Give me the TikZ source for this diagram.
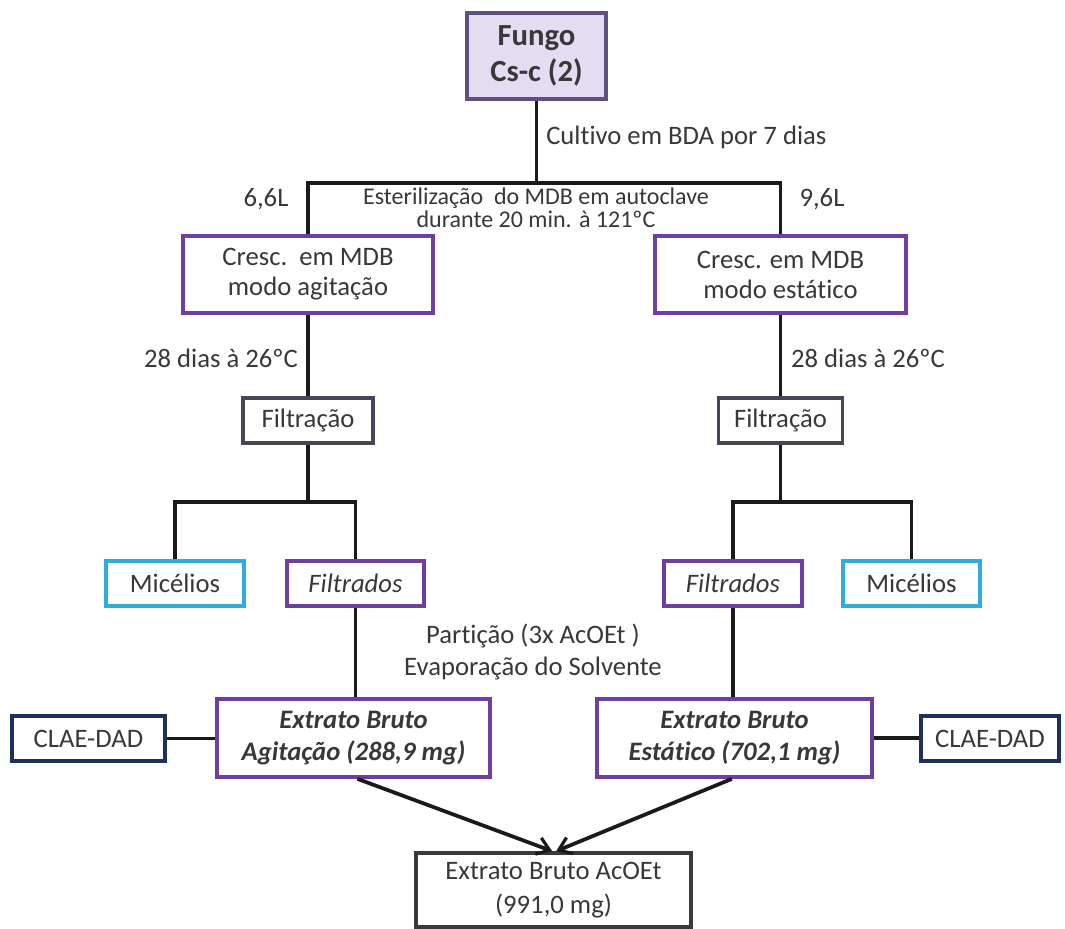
\documentclass[tikz,border=0pt]{standalone}
\usepackage{fontspec}
\setmainfont{Carlito}[RawFeature={-liga;-clig;-calt;-dlig}]
\usetikzlibrary{arrows.meta}

\definecolor{txt}{HTML}{383838}
\definecolor{wire}{HTML}{1A1A1A}
\definecolor{violet}{HTML}{6E3FA0}
\definecolor{lavender}{HTML}{E4DCF0}
\definecolor{fungoedge}{HTML}{5E5080}
\definecolor{greyviolet}{HTML}{4B4458}
\definecolor{cyanedge}{HTML}{2EADD8}
\definecolor{navy}{HTML}{1F2F5E}
\definecolor{darkedge}{HTML}{3A3A3A}

\tikzset{
  box/.style={draw, line width=2.8pt, inner sep=0pt, align=center, text=txt,
    font=\fontsize{20}{22.5}\selectfont},
  purplebox/.style={box, draw=violet},
  greybox/.style={box, draw=greyviolet},
  cyanbox/.style={box, draw=cyanedge},
  navybox/.style={box, draw=navy},
  darkbox/.style={box, draw=darkedge},
  lbl/.style={inner sep=0pt, text=txt, font=\fontsize{20}{22.5}\selectfont},
  link/.style={draw=wire, line width=2.8pt},
  arrowlink/.style={link, -{Straight Barb[length=9pt,width=13pt,line width=2.4pt]}}
}

\begin{document}
\begin{tikzpicture}[x=0.75pt, y=-0.75pt]
  \useasboundingbox (0,0) rectangle (1065,929);

  % top node
  \node[box, draw=fungoedge, fill=lavender, minimum width=104pt, minimum height=64.5pt,
        font=\bfseries\fontsize{23}{27.5}\selectfont] (fungo) at (536.5,56) {Fungo\\Cs-c (2)};

  % growth boxes
  \node[purplebox, minimum width=187.5pt, minimum height=57.75pt] (crescA) at (308,274.5)
        {Cresc.\ \ em MDB\\modo agitação};
  \node[purplebox, minimum width=188.25pt, minimum height=57.75pt] (crescE) at (780.5,274.5)
        {Cresc. em MDB\\modo estático};

  % filtration
  \node[greybox, minimum width=97.5pt, minimum height=33.75pt] (filtA) at (308,420.5) {Filtração};
  \node[greybox, minimum width=93pt, minimum height=33.75pt] (filtE) at (780.5,420.5) {Filtração};

  % products of filtration
  \node[cyanbox, minimum width=103.5pt, minimum height=33.75pt] (micA) at (175,583.5) {Micélios};
  \node[purplebox, minimum width=102.75pt, minimum height=33.75pt] (filtrA) at (355.5,583.5) {\itshape Filtrados};
  \node[purplebox, minimum width=103.5pt, minimum height=33.75pt] (filtrE) at (733,583.5) {\itshape Filtrados};
  \node[cyanbox, minimum width=102.75pt, minimum height=33.75pt] (micE) at (911.5,583.5) {Micélios};

  % crude extracts
  \node[purplebox, minimum width=204.75pt, minimum height=58.5pt, font=\bfseries\itshape\fontsize{20}{24}\selectfont]
        (ebA) at (353.5,738) {Extrato Bruto\\Agitação (288,9 mg)};
  \node[purplebox, minimum width=206.25pt, minimum height=58.5pt, font=\bfseries\itshape\fontsize{20}{24}\selectfont]
        (ebE) at (734.5,738) {Extrato Bruto\\Estático (702,1 mg)};

  % analysis
  \node[navybox, minimum width=114.75pt, minimum height=33.75pt] (claeA) at (88.5,738.5) {CLAE-DAD};
  \node[navybox, minimum width=103.5pt, minimum height=33.75pt] (claeE) at (990,738.5) {CLAE-DAD};

  % combined extract
  \node[darkbox, minimum width=206.25pt, minimum height=55.5pt, font=\fontsize{20}{25}\selectfont]
        (final) at (553.5,890) {Extrato Bruto AcOEt\\(991,0 mg)};

  % step labels
  \node[lbl, anchor=west] (cultivo) at (546,137) {Cultivo em BDA por 7 dias};
  \node[lbl] (volA) at (266,199) {6,6L};
  \node[lbl] (volE) at (822,199) {9,6L};
  \node[lbl, align=center, font=\fontsize{18}{17}\selectfont] (ester) at (536,208)
        {Esterilização\ \ do MDB em autoclave\\durante 20 min. à 121ºC};
  \node[lbl] (diasA) at (221,358) {28 dias à 26ºC};
  \node[lbl] (diasE) at (868,358) {28 dias à 26ºC};
  \node[lbl, align=center, font=\fontsize{20}{23.5}\selectfont] (particao) at (533,652)
        {Partição (3x AcOEt )\\Evaporação do Solvente};

  % branching points
  \coordinate (split) at (536.5,183);
  \coordinate (brA) at (308,502);
  \coordinate (brE) at (780.5,502);

  % connectors
  \draw[link] (fungo.south) -- (split);
  \draw[link] (crescA.north) -- (crescA.north |- split) -- (crescE.north |- split) -- (crescE.north);
  \draw[link] (crescA.south) -- (filtA.north);
  \draw[link] (crescE.south) -- (filtE.north);

  \draw[link] (filtA.south) -- (brA);
  \draw[link] (micA.north) -- (micA.north |- brA) -- (filtrA.north |- brA) -- (filtrA.north);
  \draw[link] (filtE.south) -- (brE);
  \draw[link] (filtrE.north) -- (filtrE.north |- brE) -- (micE.north |- brE) -- (micE.north);

  \draw[link] (filtrA.south) -- (filtrA.south |- ebA.north);
  \draw[link] (filtrE.south) -- (filtrE.south |- ebE.north);

  \draw[link] (claeA.east) -- (claeA.east -| ebA.west);
  \draw[link] (ebE.east) -- (ebE.east -| claeE.west);

  \draw[arrowlink] ([xshift=3pt]ebA.south) -- ([xshift=-1pt]final.north);
  \draw[arrowlink] ([xshift=-2pt]ebE.south) -- ([xshift=2pt]final.north);
\end{tikzpicture}
\end{document}
